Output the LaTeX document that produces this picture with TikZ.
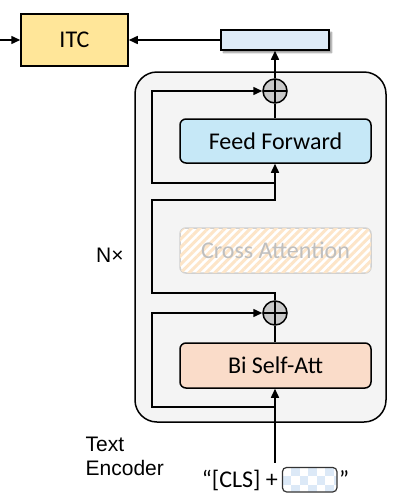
\documentclass[tikz,border=0pt]{standalone}
\usepackage{fontspec}
\newfontfamily\calfont{Carlito}
\newfontfamily\arifont{Liberation Sans}
\usetikzlibrary{arrows.meta,patterns.meta,shadows.blur}
\definecolor{itcfill}{HTML}{FFE699}
\definecolor{barfill}{HTML}{DEEBF7}
\definecolor{encfill}{HTML}{F4F4F4}
\definecolor{fffill}{HTML}{C6E8F7}
\definecolor{bsafill}{HTML}{FADCC9}
\definecolor{plusfill}{HTML}{C8C8C8}
\definecolor{stripe}{HTML}{FDE5C8}
\definecolor{fadeline}{HTML}{D0D0D0}
\definecolor{fadetext}{HTML}{BFBFBF}
\definecolor{checker}{HTML}{DCE9F7}
\tikzset{
  lbl/.style={font=\calfont\fontsize{24}{28}\selectfont},
  boxstyle/.style={draw=black, line width=1.5pt, inner sep=0pt, lbl},
  layer/.style={boxstyle, rounded corners=6pt, minimum width=191pt, minimum height=44pt},
  plusnode/.style={circle, draw=black, line width=1.5pt, fill=plusfill, minimum size=24pt, inner sep=0pt,
    path picture={\draw[line width=1.3pt] (path picture bounding box.north) -- (path picture bounding box.south)
      (path picture bounding box.west) -- (path picture bounding box.east);}},
  conn/.style={line width=1.5pt, draw=black},
  arr/.style={conn, -{Triangle[length=9pt,width=8pt]}},
  sans/.style={font=\arifont\fontsize{21}{25}\selectfont, inner sep=0pt}
}
\begin{document}
\begin{tikzpicture}[x=1pt,y=-1pt]
\useasboundingbox (0,0) rectangle (412,496);
% encoder block
\node[draw=black, line width=1.5pt, fill=encfill, rounded corners=22pt, minimum width=251pt, minimum height=350pt] (enc) at (260.5,247) {};
% ITC and output bar
\node[boxstyle, fill=itcfill, minimum width=107pt, minimum height=52pt] (itc) at (74.5,40) {ITC};
\node[boxstyle, fill=barfill, minimum width=108pt, minimum height=20pt,
  blur shadow={shadow xshift=2.5pt, shadow yshift=-2.5pt, shadow blur steps=6, shadow opacity=45}] (bar) at (275,40) {};
\coordinate (src) at (0,40);
% layers
\node[plusnode] (p1) at (275,91) {};
\node[layer, fill=fffill] (ff) at (275.5,141) {Feed Forward};
\node[draw=fadeline, line width=1.5pt, rounded corners=6pt, minimum width=191pt, minimum height=45pt, fill=white,
  postaction={pattern={Lines[angle=45, distance=6pt, line width=3pt]}, pattern color=stripe},
  inner sep=0pt] (ca) at (275.5,250.5) {};
\node[lbl, text=fadetext] (catext) at (275.5,250.5) {Cross Attention};
\node[plusnode] (p2) at (275,313) {};
\node[layer, fill=bsafill, minimum height=45pt] (bsa) at (275.5,365.5) {Bi Self-Att};
% waypoints
\coordinate (inp) at (275,462.5);
\coordinate (r2) at (275,407);
\coordinate (r2l) at (152,407);
\coordinate (byA) at (275,293);
\coordinate (byB) at (152,293);
\coordinate (byC) at (152,200);
\coordinate (r1) at (275,183);
\coordinate (r1l) at (152,183);
% connectors
\draw[arr] (src) -- (itc.west);
\draw[arr] (bar.west) -- (itc.east);
\draw[arr] (p1.north) -- (bar.south);
\draw[conn] (ff.north -| p1) -- (p1.south);
\draw[arr] (inp) -- (bsa.south -| inp);
\draw[conn] (bsa.north -| p2) -- (p2.south);
\draw[arr] (r2) -- (r2l) |- (p2.west);
\draw[arr] (p2.north) -- (byA) -- (byB) -- (byC) -| (ff.south -| p1);
\draw[arr] (r1) -- (r1l) |- (p1.west);
% labels
\node[inner sep=0pt, font=\arifont\fontsize{21}{24}\selectfont, anchor=base west] (nx) at (96,262.5) {N×};
\node[sans, anchor=base west] (t1) at (85.5,451) {Text};
\node[sans, anchor=base west] (t2) at (85.5,475) {Encoder};
\node[lbl, inner sep=0pt, anchor=base west] (q1) at (201.7,487.7) {“[CLS] +};
\node[minimum width=54pt, minimum height=24pt, inner sep=0pt, rounded corners=4pt, fill=white,
  path picture={
    \foreach \i in {0,...,6}{\foreach \j in {0,...,2}{
      \pgfmathtruncatemacro{\chk}{mod(\i+\j,2)}
      \ifnum\chk=1
        \fill[checker, sharp corners] ([xshift=\i*8.5pt, yshift=-\j*8.5pt]path picture bounding box.north west) rectangle ++(8.5pt,-8.5pt);
      \fi}}
  }] (ph) at (309.7,479.7) {};
\draw[line width=1.2pt, draw=black!80, rounded corners=4pt] (ph.north west) rectangle (ph.south east);
\node[lbl, inner sep=0pt, anchor=base west] (q2) at (339,487.7) {”};
\end{tikzpicture}
\end{document}
